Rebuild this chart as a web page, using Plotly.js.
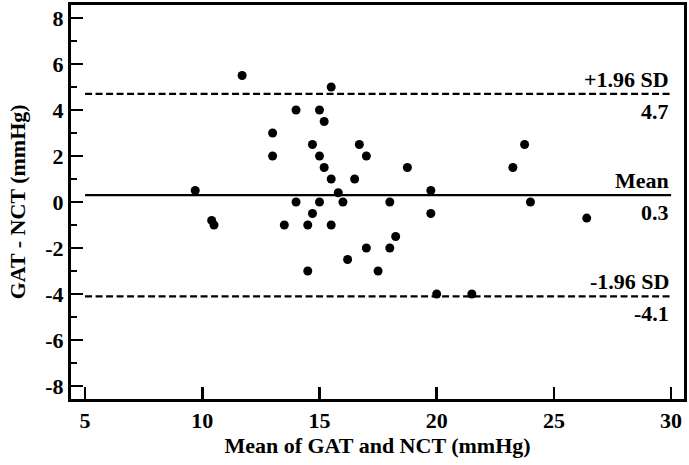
<!DOCTYPE html>
<html>
<head>
<meta charset="utf-8">
<script src="https://cdn.plot.ly/plotly-3.0.1.min.js"></script>
<style>html,body{margin:0;padding:0;background:#fff;}#chart{width:689px;height:465px;}</style>
</head>
<body>
<div id="chart"></div>
<script>
// Bland-Altman data: mean of GAT and NCT (x) vs difference GAT - NCT (y)
const meanValues = [9.7, 10.4, 10.5, 11.7, 13.0, 13.0, 13.5, 14.0, 14.0, 14.5, 14.5, 14.7, 14.7,
  15.0, 15.0, 15.0, 15.2, 15.2, 15.5, 15.5, 15.5, 15.8, 16.0, 16.2, 16.5, 16.7, 17.0, 17.0, 17.5,
  18.0, 18.0, 18.25, 18.75, 19.75, 19.75, 20.0, 21.5, 23.25, 23.75, 24.0, 26.4];
const diffValues = [0.5, -0.8, -1.0, 5.5, 3.0, 2.0, -1.0, 4.0, 0.0, -1.0, -3.0, 2.5, -0.5,
  4.0, 2.0, 0.0, 3.5, 1.5, 5.0, 1.0, -1.0, 0.4, 0.0, -2.5, 1.0, 2.5, 2.0, -2.0, -3.0,
  0.0, -2.0, -1.5, 1.5, 0.5, -0.5, -4.0, -4.0, 1.5, 2.5, 0.0, -0.7];
const meanDiff = 0.3;
const upperLimit = 4.7;
const lowerLimit = -4.1;
const limitLabels = ["+1.96 SD", "Mean", "-1.96 SD"];
const lineSpanX = [5, 30];
const xTicks = [5, 10, 15, 20, 25, 30];
const yTicks = [-8, -6, -4, -2, 0, 2, 4, 6, 8];
const xTitle = "Mean of GAT and NCT (mmHg)";
const yTitle = "GAT - NCT (mmHg)";

const FONT = "Liberation Serif, Times New Roman, serif";
const FS = 22;

function hline(y, dash) {
  return {
    x: lineSpanX, y: [y, y], mode: 'lines', type: 'scatter',
    line: {color: '#000', width: 2.2, dash: dash}, hoverinfo: 'skip', showlegend: false
  };
}

const traces = [
  hline(upperLimit, '7px,3.5px'),
  hline(meanDiff, 'solid'),
  hline(lowerLimit, '7px,3.5px'),
  {
    x: meanValues, y: diffValues, mode: 'markers', type: 'scatter',
    marker: {color: '#000', size: 9}, showlegend: false
  }
];

const levels = [upperLimit, meanDiff, lowerLimit];
const annotations = [];
levels.forEach((v, i) => {
  annotations.push({x: lineSpanX[1], y: v, xref: 'x', yref: 'y', text: '<b>' + limitLabels[i] + '</b>',
    showarrow: false, xanchor: 'right', yanchor: 'bottom', xshift: 0, yshift: 0,
    font: {family: FONT, size: FS, color: '#000'}});
  annotations.push({x: lineSpanX[1], y: v, xref: 'x', yref: 'y', text: '<b>' + v.toFixed(1) + '</b>',
    showarrow: false, xanchor: 'right', yanchor: 'top', xshift: 0, yshift: -3,
    font: {family: FONT, size: FS, color: '#000'}});
});
// y-axis title placed as a rotated annotation (to sit at the far left like the reference)
annotations.push({xref: 'paper', yref: 'paper', x: -0.0875, y: 0.5, xanchor: 'center', yanchor: 'middle',
  text: '<b>' + yTitle + '</b>', textangle: -90, showarrow: false,
  font: {family: FONT, size: FS, color: '#000'}});

const layout = {
  width: 689, height: 465,
  margin: {l: 71, r: 5, t: 5, b: 66},
  paper_bgcolor: '#fff', plot_bgcolor: '#fff',
  font: {family: FONT, size: FS, color: '#000'},
  showlegend: false,
  xaxis: {
    range: [4.4, 30.55], tickvals: xTicks, ticktext: xTicks.map(v => '<b>' + v + '</b>'),
    ticks: 'inside', ticklen: 12, tickwidth: 2.5, tickcolor: '#000',
    showline: true, linewidth: 3, linecolor: '#000', mirror: true,
    showgrid: false, zeroline: false,
    tickfont: {family: FONT, size: FS},
    title: {text: '<b>' + xTitle + '</b>', standoff: 6,
      font: {family: FONT, size: FS}}
  },
  yaxis: {
    range: [-8.565, 8.565], tickvals: yTicks, ticktext: yTicks.map(v => '<b>' + v + '</b>'),
    ticks: 'inside', ticklen: 12, tickwidth: 2.5, tickcolor: '#000',
    minor: {dtick: 1, tick0: 0, ticks: 'inside', ticklen: 6, tickwidth: 1.5, tickcolor: '#000', showgrid: false},
    showline: true, linewidth: 3, linecolor: '#000', mirror: true,
    showgrid: false, zeroline: false,
    tickfont: {family: FONT, size: FS}
  },
  annotations: annotations
};

Plotly.newPlot('chart', traces, layout, {staticPlot: true, displayModeBar: false});
</script>
</body>
</html>
